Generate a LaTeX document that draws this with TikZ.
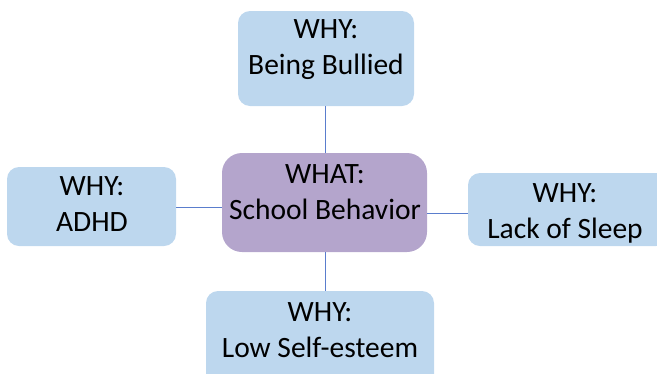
\documentclass[tikz,border=0pt]{standalone}
\usepackage{fontspec}
\setmainfont{Carlito}
\definecolor{whyblue}{RGB}{189,215,238}
\definecolor{whatpurple}{RGB}{180,165,204}
\definecolor{linkblue}{RGB}{90,125,205}
\begin{document}
\begin{tikzpicture}[x=1pt,y=-1pt,
  whybox/.style={draw=none, fill=whyblue, rounded corners=12pt, inner sep=0pt},
  whatbox/.style={draw=none, fill=whatpurple, rounded corners=20pt, inner sep=0pt},
  lbl/.style={align=center, inner sep=0pt, font=\fontsize{29.5}{36}\selectfont},
  link/.style={draw=linkblue, line width=1pt}]
\useasboundingbox (0,0) rectangle (657,373);
\clip (0,0) rectangle (657,373);
% boxes
\node[whybox, minimum width=176pt, minimum height=95pt] (top) at (326,58.5) {};
\node[whybox, minimum width=169pt, minimum height=79pt] (left) at (91.5,206.5) {};
\node[whybox, minimum width=200pt, minimum height=73pt] (right) at (568,209.5) {};
\node[whybox, minimum width=228pt, minimum height=100pt] (bottom) at (320,341) {};
\node[whatbox, minimum width=205pt, minimum height=99pt] (center) at (324.5,202.5) {};
% labels
\node[lbl] (toptxt) at (326,50) {WHY:\\Being Bullied};
\node[lbl] (lefttxt) at (92,204) {WHY:\\ADHD};
\node[lbl] (righttxt) at (565,213) {WHY:\\Lack of Sleep};
\node[lbl] (bottomtxt) at (320,330) {WHY:\\Low Self-esteem};
\node[lbl] (centertxt) at (325,192) {WHAT:\\School Behavior};
% connectors
\draw[link] (top.south -| 325,0) -- (center.north -| 325,0);
\draw[link] (center.south -| 325,0) -- (bottom.north -| 325,0);
\draw[link] (left.east |- 0,207) -- (center.west |- 0,207);
\draw[link] (center.east |- 0,213) -- (right.west |- 0,213);
\end{tikzpicture}
\end{document}
